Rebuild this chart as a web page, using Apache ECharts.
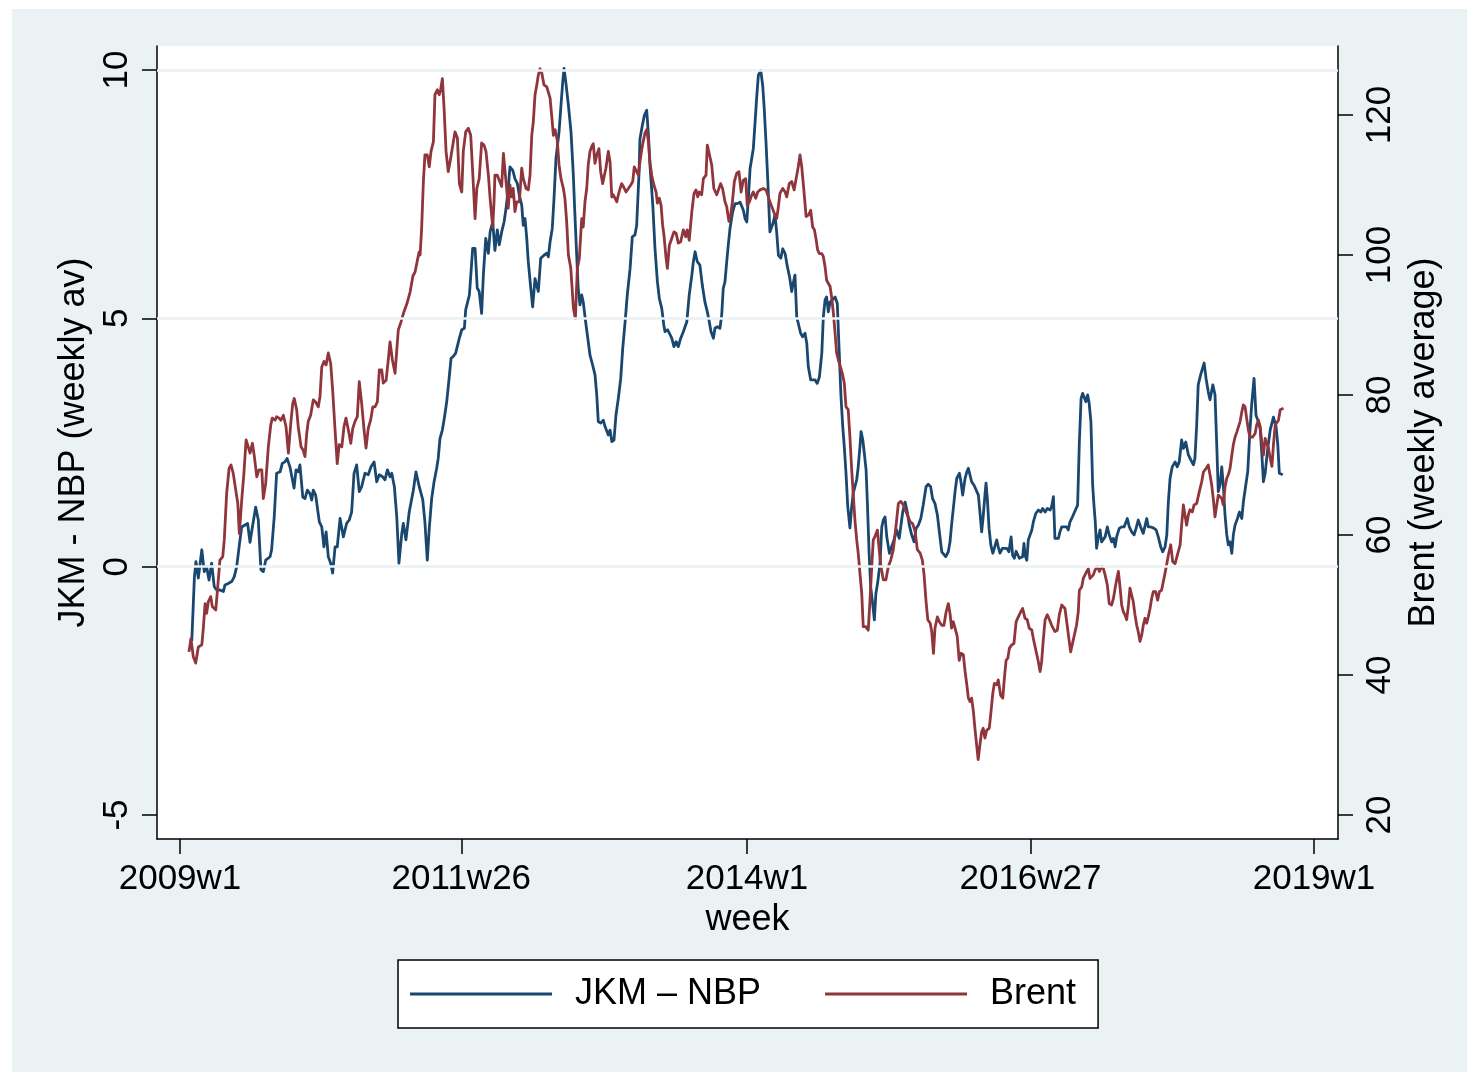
<!DOCTYPE html>
<html>
<head>
<meta charset="utf-8">
<title>JKM - NBP spread and Brent</title>
<script src="https://cdn.jsdelivr.net/npm/echarts@6/dist/echarts.min.js"></script>
<style>
  html, body { margin: 0; padding: 0; background: #ffffff; }
  #wrap { position: relative; width: 1467px; height: 1072px; }
  #chart { width: 1467px; height: 1072px; }
  /* thin white page margin on the left and top edges */
  .edge { position: absolute; background: #ffffff; pointer-events: none; }
  #edgeLeft { left: 0; top: 0; width: 12px; height: 1072px; }
  #edgeTop { left: 0; top: 0; width: 1467px; height: 9px; }
</style>
</head>
<body>
<div id="wrap">
  <div id="chart"></div>
  <div id="edgeLeft" class="edge"></div>
  <div id="edgeTop" class="edge"></div>
</div>
<script>
// Stata weekly index: week 0 = 2009w1, 52 weeks per year
const weekTicks = [0, 129, 260, 390, 520];
const weekTickLabels = ['2009w1', '2011w26', '2014w1', '2016w27', '2019w1'];
const spreadTicks = [-5, 0, 5, 10];
const brentTicks = [20, 40, 60, 80, 100, 120];

// JKM - NBP spread (weekly average)
const jkmWeek = [
  5.4, 6.6, 7.3, 8.4, 10.0, 11.1, 12.2, 13.3, 14.5, 15.7, 16.8, 18.3, 19.9, 20.6, 22.1, 23.7, 24.9, 26.0, 27.1, 28.3,
  29.8, 31.0, 32.1, 33.2, 34.7, 35.9, 37.1, 38.2, 39.3, 41.3, 42.0, 43.2, 44.3, 45.9, 46.9, 48.1, 49.1, 50.4, 51.2, 52.3,
  53.2, 54.2, 55.0, 56.3, 57.3, 58.4, 59.6, 60.4, 61.1, 62.2, 63.0, 63.9, 65.0, 66.0, 67.0, 68.0, 69.1, 70.0, 71.1, 72.1,
  73.4, 74.9, 76.4, 77.6, 78.7, 79.8, 81.0, 82.2, 83.3, 84.8, 86.3, 87.6, 89.0, 90.2, 91.4, 92.9, 94.0, 95.1, 96.3, 97.1,
  98.3, 99.4, 100.4, 101.7, 102.4, 103.6, 105.1, 107.0, 108.2, 109.7, 111.3, 112.3, 113.4, 114.3, 115.4, 116.5, 117.7, 118.4, 119.2, 120.3,
  121.2, 122.3, 123.4, 124.3, 125.3, 126.4, 127.3, 128.1, 129.2, 130.4, 131.0, 131.9, 132.7, 133.3, 134.2, 135.3, 136.3, 137.2, 138.3, 139.1,
  140.2, 141.4, 142.2, 143.4, 144.4, 145.5, 146.4, 147.5, 148.6, 149.5, 150.5, 151.3, 152.6, 153.6, 154.7, 155.6, 156.7, 157.4, 158.2, 159.0,
  159.7, 160.8, 161.7, 162.8, 163.6, 164.3, 165.4, 166.9, 168.2, 168.9, 169.7, 170.7, 171.5, 172.4, 173.0, 173.8, 174.7, 175.5, 176.1, 176.9,
  178.1, 179.3, 180.3, 181.1, 181.9, 182.6, 183.4, 184.2, 184.9, 186.0, 187.0, 188.0, 189.2, 190.3, 191.1, 191.8, 192.9, 194.1, 194.9, 195.7,
  196.4, 197.2, 198.0, 199.0, 199.9, 201.0, 202.1, 203.0, 204.1, 205.1, 206.4, 207.4, 208.6, 209.4, 210.5, 210.9, 212.0, 212.9, 214.0, 214.8,
  215.5, 216.8, 217.8, 218.9, 219.8, 220.9, 221.9, 222.4, 223.6, 224.4, 225.5, 226.5, 227.5, 228.5, 229.6, 230.8, 231.6, 232.4, 233.5, 234.7,
  235.4, 236.2, 237.2, 238.4, 239.5, 240.7, 241.8, 242.7, 243.5, 244.6, 245.3, 246.4, 247.6, 248.4, 249.1, 249.9, 250.7, 251.4, 252.2, 253.4,
  254.5, 255.6, 256.8, 257.6, 258.3, 259.1, 259.9, 260.6, 261.4, 262.2, 262.9, 263.7, 264.5, 265.2, 266.3, 267.2, 267.9, 268.7, 269.5, 270.5,
  271.3, 272.1, 272.8, 273.6, 274.4, 275.5, 276.4, 277.5, 278.5, 279.5, 280.5, 281.2, 282.0, 282.8, 283.5, 284.6, 285.5, 286.6, 287.4, 288.1,
  289.2, 290.1, 291.2, 292.2, 293.2, 294.3, 295.0, 295.8, 296.5, 297.3, 298.1, 299.1, 300.4, 301.4, 302.3, 303.1, 303.9, 304.6, 305.4, 306.2,
  307.2, 308.0, 308.7, 309.5, 310.3, 311.0, 311.8, 312.3, 313.1, 313.8, 314.6, 315.2, 316.0, 316.7, 317.6, 318.4, 319.1, 319.9, 321.0, 321.8,
  322.5, 323.3, 324.1, 325.3, 326.3, 327.4, 328.6, 329.8, 331.4, 332.5, 333.5, 334.4, 335.5, 336.6, 337.5, 338.6, 339.7, 340.8, 342.1, 343.1,
  344.2, 345.1, 346.2, 347.3, 348.2, 349.3, 350.0, 351.1, 352.3, 353.1, 353.8, 354.6, 355.4, 356.2, 357.4, 358.1, 358.9, 360.0, 360.8, 361.5,
  362.3, 363.0, 364.1, 365.0, 366.1, 366.8, 367.6, 368.3, 369.1, 369.6, 370.2, 371.0, 371.8, 372.7, 373.4, 374.5, 375.2, 376.0, 377.1, 378.0,
  379.1, 380.1, 381.1, 381.8, 382.6, 383.4, 384.1, 384.9, 385.6, 386.4, 387.0, 387.5, 388.3, 389.0, 389.8, 390.6, 391.3, 392.4, 393.6, 394.7,
  395.6, 396.7, 397.7, 399.0, 399.7, 400.5, 401.2, 402.0, 402.8, 403.5, 404.3, 405.5, 406.6, 407.3, 408.1, 408.9, 409.9, 410.9, 411.6, 412.4,
  413.2, 413.9, 414.7, 415.4, 416.2, 416.9, 417.7, 418.5, 419.1, 419.7, 420.3, 421.0, 421.9, 422.6, 423.4, 424.2, 425.2, 426.1, 427.2, 428.0,
  428.8, 429.5, 430.7, 431.8, 432.9, 433.8, 434.4, 435.3, 436.4, 437.5, 438.4, 439.4, 440.5, 441.7, 442.5, 443.3, 444.0, 445.1, 446.3, 447.6,
  448.6, 449.7, 450.6, 451.7, 452.5, 453.2, 454.0, 455.0, 456.3, 457.3, 458.2, 459.3, 460.1, 461.2, 462.4, 463.5, 464.7, 465.4, 466.2, 466.9,
  468.0, 469.6, 470.5, 471.5, 472.3, 473.6, 474.6, 475.4, 476.1, 476.9, 477.7, 478.4, 479.2, 480.0, 480.7, 481.5, 482.3, 483.0, 483.8, 484.9,
  485.8, 486.9, 487.6, 488.8, 489.6, 490.6, 491.4, 492.5, 493.4, 494.5, 495.3, 496.1, 496.8, 497.6, 498.6, 499.9, 501.4, 502.6, 503.4, 504.1,
  505.7
];
const jkmSpread = [
  -1.5, -0.21, 0.10, -0.23, 0.34, -0.10, 0.0, -0.27, 0.07, -0.40, -0.47, -0.47, -0.50, -0.37, -0.34, -0.30, -0.20, 0.0, 0.40, 0.80,
  0.84, 0.87, 0.49, 0.80, 1.20, 0.94, -0.06, -0.10, 0.13, 0.20, 0.34, 1.00, 1.88, 1.91, 2.08, 2.11, 2.18, 2.01, 1.98, 1.58,
  1.95, 1.91, 2.05, 1.40, 1.37, 1.54, 1.47, 1.34, 1.54, 1.44, 1.47, 0.90, 0.80, 0.40, 0.70, 0.20, 0.07, -0.13, 0.40, 0.40,
  0.97, 0.60, 0.87, 0.94, 1.10, 1.88, 2.05, 1.51, 1.61, 1.88, 1.85, 2.01, 2.11, 1.71, 1.85, 1.81, 1.75, 1.95, 1.81, 1.88,
  1.61, 1.00, 0.07, 0.67, 0.87, 0.54, 1.10, 1.54, 1.91, 1.61, 1.35, 0.90, 0.13, 0.77, 1.37, 1.71, 1.98, 2.18, 2.58, 2.75,
  2.99, 3.32, 3.79, 4.20, 4.23, 4.30, 4.30, 4.60, 4.77, 4.80, 5.17, 5.33, 5.47, 5.84, 6.41, 6.41, 5.61, 5.54, 5.10, 5.87,
  6.61, 6.31, 6.74, 6.94, 6.37, 6.78, 6.48, 6.74, 6.94, 7.21, 7.61, 8.05, 7.98, 7.81, 7.71, 7.48, 7.28, 6.87, 7.01, 6.61,
  6.14, 5.63, 5.23, 5.80, 5.80, 5.54, 6.21, 6.27, 6.31, 6.24, 6.54, 6.81, 7.41, 8.22, 8.22, 8.75, 9.29, 9.76, 10.03, 9.76,
  9.29, 8.75, 7.94, 7.07, 6.27, 5.60, 5.27, 5.47, 5.33, 4.93, 4.60, 4.26, 4.06, 3.86, 3.46, 2.92, 2.89, 2.95, 2.82, 2.85,
  2.65, 2.75, 2.52, 2.55, 3.05, 3.39, 3.79, 4.39, 4.93, 5.47, 6.01, 6.64, 6.68, 6.87, 7.94, 8.61, 8.88, 9.08, 9.19, 8.69,
  8.08, 7.28, 6.41, 5.74, 5.40, 5.20, 4.85, 4.73, 4.77, 4.73, 4.60, 4.43, 4.53, 4.43, 4.60, 4.73, 4.73, 4.93, 5.47, 5.87,
  6.14, 6.34, 6.14, 6.07, 5.67, 5.33, 5.13, 4.93, 4.73, 4.60, 4.80, 4.83, 4.80, 5.07, 5.60, 5.74, 6.14, 6.47, 6.81, 7.14,
  7.31, 7.31, 7.34, 7.34, 7.18, 7.01, 6.94, 7.41, 8.01, 7.98, 8.42, 8.95, 9.49, 9.89, 9.99, 9.69, 9.22, 8.55, 7.81, 6.74,
  6.74, 6.94, 7.08, 6.74, 6.27, 6.21, 6.40, 6.30, 6.04, 5.84, 5.54, 5.71, 5.87, 5.03, 4.90, 4.70, 4.63, 4.70, 4.50, 4.03,
  3.76, 3.72, 3.76, 3.69, 3.82, 4.30, 5.03, 5.37, 5.43, 5.13, 5.33, 5.37, 5.43, 5.30, 4.30, 3.42, 2.82, 2.42, 1.88, 1.21,
  0.78, 1.21, 1.48, 1.61, 1.75, 2.01, 2.42, 2.72, 2.55, 2.28, 1.95, 1.28, 0.27, -0.40, -0.74, -1.07, -0.54, -0.33, 0.07, 0.80,
  0.94, 1.00, 0.60, 0.27, 0.40, 0.54, 0.74, 0.57, 1.10, 1.30, 1.10, 0.84, 0.64, 0.50, 0.77, 0.84, 0.97, 1.24, 1.61, 1.66,
  1.61, 1.37, 1.27, 1.04, 0.70, 0.30, 0.34, 0.20, 0.30, 0.50, 0.84, 1.17, 1.51, 1.78, 1.88, 1.71, 1.44, 1.78, 1.91, 1.98,
  1.95, 1.71, 1.64, 1.64, 1.44, 1.10, 0.70, 1.01, 1.44, 1.68, 1.37, 0.77, 0.44, 0.27, 0.37, 0.54, 0.40, 0.27, 0.37, 0.34,
  0.37, 0.30, 0.60, 0.23, 0.17, 0.31, 0.30, 0.17, 0.13, 0.20, 0.47, 0.23, 0.13, 0.54, 0.57, 0.74, 0.90, 1.07, 1.14, 1.10,
  1.17, 1.10, 1.17, 1.14, 1.21, 1.41, 0.57, 0.54, 0.57, 0.70, 0.80, 0.80, 0.80, 0.74, 0.90, 0.97, 1.07, 1.17, 1.24, 2.51,
  3.39, 3.49, 3.49, 3.32, 3.46, 3.29, 2.92, 1.64, 1.24, 0.90, 0.37, 0.57, 0.74, 0.50, 0.54, 0.60, 0.80, 0.64, 0.50, 0.57,
  0.40, 0.60, 0.77, 0.80, 0.80, 0.84, 0.97, 0.80, 0.70, 0.64, 0.77, 0.94, 0.80, 0.67, 0.64, 0.97, 0.80, 0.80, 0.78, 0.74,
  0.60, 0.40, 0.30, 0.40, 0.64, 1.30, 1.78, 2.01, 2.11, 2.01, 2.11, 2.55, 2.38, 2.51, 2.25, 2.15, 2.05, 2.18, 2.85, 3.66,
  3.86, 4.10, 3.79, 3.52, 3.36, 3.66, 3.46, 2.45, 1.51, 1.64, 2.01, 1.64, 1.04, 0.64, 0.44, 0.50, 0.27, 0.64, 0.84, 0.97,
  1.10, 0.97, 1.30, 1.67, 1.91, 2.72, 3.26, 3.79, 3.05, 2.92, 2.78, 2.25, 1.71, 1.88, 2.31, 2.75, 3.01, 2.82, 2.45, 1.88,
  1.85
];

// Brent crude, USD per barrel (weekly average)
const brentWeek = [
  4.1, 5.0, 6.1, 7.2, 8.4, 10.0, 10.7, 11.5, 12.2, 13.0, 14.1, 14.8, 15.6, 16.4, 17.3, 18.3, 19.6, 20.3, 21.4, 22.5,
  23.4, 24.4, 25.2, 26.5, 27.2, 28.3, 29.3, 30.3, 31.3, 32.1, 33.2, 34.1, 35.2, 36.2, 37.5, 38.2, 39.3, 40.5, 41.6, 42.3,
  43.6, 44.3, 45.4, 46.3, 47.4, 48.6, 49.7, 50.8, 51.7, 52.4, 53.5, 54.2, 55.5, 56.5, 57.3, 58.1, 58.8, 59.9, 61.1, 62.2,
  63.4, 64.2, 65.0, 66.0, 67.0, 68.0, 69.1, 70.0, 71.1, 72.1, 73.0, 74.2, 75.2, 76.1, 77.2, 78.3, 79.2, 80.2, 81.3, 82.2,
  83.3, 84.4, 85.3, 86.3, 87.4, 88.4, 89.4, 90.5, 91.4, 92.5, 93.2, 94.5, 95.5, 96.3, 97.4, 98.6, 99.4, 100.1, 101.3, 102.7,
  104.1, 105.5, 106.8, 107.8, 108.7, 109.6, 110.1, 110.8, 111.6, 112.3, 113.4, 114.3, 115.1, 116.2, 116.9, 118.0, 118.9, 119.5, 120.3, 121.1,
  122.0, 123.0, 124.1, 125.1, 126.1, 127.2, 128.1, 129.2, 129.9, 131.0, 132.2, 133.3, 134.2, 135.3, 136.1, 137.2, 138.3, 139.4, 140.3, 141.4,
  142.2, 142.9, 143.4, 144.0, 144.4, 145.5, 146.4, 147.5, 148.3, 149.0, 149.8, 150.5, 151.3, 152.1, 152.8, 153.6, 154.4, 155.6, 156.7, 157.4,
  158.7, 159.7, 160.5, 161.3, 162.0, 162.8, 163.6, 164.3, 165.1, 165.9, 166.9, 168.2, 168.9, 169.7, 170.7, 171.2, 172.0, 173.0, 173.8, 174.7,
  175.8, 176.5, 177.3, 178.1, 179.2, 179.6, 180.4, 181.3, 182.2, 183.1, 184.2, 184.9, 185.7, 186.5, 187.2, 188.0, 188.8, 189.5, 190.3, 191.1,
  192.1, 192.9, 193.8, 194.6, 195.3, 196.4, 197.2, 198.0, 198.7, 199.5, 200.3, 201.0, 201.8, 202.5, 203.3, 204.5, 205.6, 206.7, 207.6, 208.3,
  209.4, 210.2, 210.9, 211.7, 212.4, 213.2, 214.0, 214.8, 215.5, 216.3, 217.3, 218.3, 218.9, 219.8, 220.6, 221.3, 221.9, 222.9, 223.5, 224.4,
  225.5, 226.5, 227.5, 228.5, 229.6, 230.8, 231.9, 232.6, 233.5, 234.7, 235.7, 236.6, 237.4, 238.1, 239.2, 240.0, 241.2, 241.8, 242.7, 243.8,
  244.8, 246.1, 246.8, 247.9, 248.8, 249.9, 250.7, 251.7, 252.5, 253.3, 254.2, 255.3, 256.3, 257.3, 258.3, 259.4, 260.1, 261.1, 262.2, 262.9,
  264.0, 264.9, 266.0, 267.5, 268.7, 269.5, 270.5, 271.6, 272.8, 273.6, 274.4, 275.1, 276.4, 277.5, 278.2, 279.4, 280.5, 281.6, 282.5, 283.5,
  284.3, 285.1, 286.2, 287.1, 288.2, 289.2, 290.1, 290.9, 291.6, 292.4, 293.2, 294.3, 295.0, 295.8, 296.5, 297.3, 298.1, 298.8, 299.6, 300.4,
  301.1, 301.9, 302.6, 303.7, 304.6, 305.4, 306.4, 307.2, 308.0, 308.7, 309.5, 310.3, 311.0, 311.8, 312.6, 313.3, 314.4, 315.6, 316.4, 317.2,
  317.9, 318.7, 319.8, 320.5, 321.4, 322.5, 323.7, 324.8, 325.9, 327.1, 328.3, 329.4, 330.5, 331.7, 332.5, 333.5, 334.8, 336.0, 337.1, 338.1,
  339.4, 340.4, 341.2, 342.1, 342.9, 344.0, 344.7, 345.5, 346.2, 347.3, 348.2, 349.3, 350.3, 351.3, 352.3, 353.1, 353.8, 354.6, 355.4, 356.4,
  357.3, 358.1, 359.2, 360.0, 360.8, 361.5, 362.3, 363.0, 363.8, 364.5, 365.3, 366.0, 366.8, 367.6, 368.3, 369.1, 369.9, 371.1, 371.9, 372.6,
  373.4, 374.5, 375.2, 376.3, 377.3, 378.0, 378.8, 379.6, 380.3, 381.4, 382.4, 383.4, 384.4, 385.5, 386.4, 387.5, 388.5, 389.4, 390.6, 391.3,
  392.1, 392.9, 393.6, 394.4, 395.1, 395.9, 396.7, 397.7, 398.7, 399.7, 400.5, 401.2, 402.3, 403.2, 404.3, 405.0, 405.8, 406.6, 407.6, 408.4,
  409.3, 410.1, 411.1, 411.9, 412.4, 413.5, 414.2, 415.0, 415.8, 416.5, 417.3, 418.1, 418.8, 419.6, 420.7, 421.6, 422.7, 423.4, 424.2, 425.2,
  426.1, 427.2, 428.0, 428.8, 429.5, 430.3, 431.1, 431.8, 432.6, 433.3, 434.1, 434.9, 435.6, 436.4, 437.1, 437.9, 438.7, 439.4, 440.2, 441.0,
  441.7, 442.5, 443.3, 444.0, 444.8, 445.6, 446.3, 447.4, 448.3, 449.1, 450.1, 451.2, 452.1, 453.2, 454.3, 455.2, 456.3, 457.3, 458.6, 459.3,
  460.1, 460.8, 461.6, 462.4, 463.1, 464.2, 465.0, 466.2, 467.4, 468.5, 469.3, 470.5, 471.5, 472.3, 473.1, 473.8, 474.6, 475.4, 476.1, 476.9,
  477.7, 478.4, 479.2, 480.0, 480.7, 481.5, 482.3, 483.0, 483.8, 484.6, 485.3, 486.1, 486.9, 487.6, 488.4, 489.1, 489.9, 490.6, 491.9, 493.0,
  493.7, 494.5, 495.3, 496.1, 496.8, 497.6, 498.4, 499.1, 499.9, 500.7, 501.4, 502.2, 503.0, 503.7, 504.5, 505.3, 506.0
];
const brentPrice = [
  43.3, 45.2, 42.6, 41.7, 44.0, 44.3, 46.7, 50.2, 48.8, 50.5, 51.2, 49.8, 49.8, 49.3, 52.6, 56.4, 56.9, 59.3, 66.0, 69.5,
  70.0, 68.8, 68.6, 64.5, 60.2, 65.0, 68.8, 73.6, 72.6, 71.7, 73.1, 71.2, 68.3, 69.3, 69.3, 65.2, 67.4, 72.6, 75.7, 76.7,
  76.4, 76.9, 76.7, 76.4, 77.1, 75.5, 71.7, 76.0, 78.8, 79.5, 77.9, 75.5, 72.6, 72.1, 71.2, 74.5, 76.2, 77.1, 79.3, 79.0,
  78.3, 79.8, 84.0, 84.8, 84.3, 86.0, 84.5, 80.7, 75.0, 70.2, 72.9, 72.6, 75.5, 76.7, 75.0, 73.1, 75.2, 76.2, 76.9, 81.9,
  78.8, 75.0, 72.4, 75.2, 76.4, 78.3, 78.3, 79.0, 83.6, 83.6, 81.7, 82.1, 85.0, 87.6, 85.0, 83.1, 86.4, 89.3, 90.4, 91.9,
  93.1, 94.7, 97.0, 97.6, 99.0, 100.4, 100.0, 103.8, 110.5, 114.3, 114.3, 112.6, 114.8, 116.2, 122.9, 123.6, 122.9, 123.6, 125.2, 120.9,
  114.8, 111.9, 113.8, 115.7, 117.6, 116.7, 110.2, 109.0, 114.8, 117.6, 118.1, 117.1, 111.9, 105.2, 109.5, 110.9, 116.0, 115.7, 114.8, 111.4,
  108.1, 105.7, 104.0, 107.6, 111.4, 111.4, 111.2, 109.8, 114.5, 112.1, 109.5, 106.7, 110.0, 108.3, 109.5, 106.2, 107.6, 107.6, 112.4, 110.9,
  109.5, 109.3, 111.4, 117.1, 119.0, 122.9, 124.3, 125.7, 126.6, 126.0, 124.3, 124.0, 123.8, 122.4, 119.0, 117.1, 117.9, 116.4, 112.9, 110.9,
  109.5, 108.1, 104.8, 100.0, 98.1, 96.2, 92.4, 90.9, 98.1, 99.5, 105.2, 104.0, 107.6, 109.5, 112.9, 114.8, 115.5, 115.9, 113.1, 114.3,
  115.2, 111.9, 110.2, 111.4, 112.4, 114.8, 113.3, 108.3, 108.6, 108.1, 107.6, 108.6, 109.5, 110.2, 109.8, 109.0, 109.5, 110.0, 110.5, 112.6,
  111.9, 111.4, 113.3, 115.0, 116.2, 117.4, 117.9, 116.2, 113.3, 111.4, 110.0, 109.0, 107.4, 108.1, 107.1, 104.3, 102.9, 99.5, 98.1, 101.4,
  102.4, 103.3, 103.1, 101.7, 101.9, 103.6, 102.6, 103.6, 102.1, 106.2, 108.8, 109.3, 108.3, 109.0, 108.6, 110.9, 111.4, 115.7, 115.5, 112.9,
  109.5, 108.6, 108.8, 110.2, 109.5, 107.6, 106.9, 104.8, 105.7, 107.6, 110.5, 111.7, 111.9, 109.0, 110.7, 110.9, 107.1, 107.6, 108.6, 109.0,
  108.1, 109.0, 109.3, 109.5, 109.3, 108.6, 107.6, 106.7, 105.7, 105.2, 106.9, 108.8, 109.5, 109.0, 108.3, 110.2, 110.5, 109.3, 109.3, 112.6,
  114.3, 112.6, 108.8, 105.5, 105.7, 106.4, 104.0, 103.6, 102.4, 100.7, 100.2, 100.2, 99.8, 98.3, 96.4, 96.2, 95.5, 94.0, 91.7, 88.8,
  86.0, 85.0, 85.2, 83.1, 81.7, 78.3, 77.9, 74.0, 69.3, 65.9, 62.1, 59.3, 57.4, 54.5, 51.7, 46.9, 46.9, 46.4, 50.7, 55.5,
  59.3, 59.8, 60.7, 58.3, 55.5, 53.6, 53.6, 55.5, 56.4, 57.9, 61.2, 64.5, 64.8, 64.3, 63.6, 62.9, 61.9, 61.6, 60.5, 57.9,
  57.4, 56.4, 54.3, 50.5, 47.9, 47.4, 46.2, 43.1, 46.7, 48.3, 47.6, 47.1, 47.1, 49.0, 50.2, 48.8, 46.7, 47.6, 46.7, 45.5,
  42.1, 43.1, 42.9, 40.5, 38.6, 36.7, 36.2, 36.7, 34.8, 32.4, 30.0, 27.9, 30.0, 31.9, 32.4, 31.0, 32.1, 32.4, 34.8, 37.1,
  38.8, 38.6, 39.3, 37.1, 36.7, 39.5, 42.1, 42.4, 43.8, 44.3, 44.5, 47.6, 48.3, 49.0, 49.5, 48.1, 47.9, 46.7, 46.4, 45.2,
  45.2, 42.9, 41.9, 40.5, 41.9, 45.2, 47.9, 48.6, 47.9, 47.1, 46.9, 46.2, 46.4, 48.6, 50.0, 50.2, 49.5, 47.6, 45.2, 43.3,
  43.3, 45.7, 47.1, 49.0, 52.1, 52.6, 53.8, 54.3, 54.8, 55.2, 53.8, 54.0, 54.3, 55.0, 55.5, 54.8, 55.5, 55.2, 54.3, 52.9,
  50.2, 50.0, 50.9, 52.4, 53.6, 54.8, 52.4, 50.0, 49.0, 48.6, 47.9, 50.0, 52.4, 52.4, 50.5, 48.6, 47.1, 46.2, 44.8, 45.7,
  47.1, 48.1, 47.4, 48.3, 49.5, 51.0, 51.9, 51.9, 50.7, 51.9, 52.1, 53.8, 55.2, 57.1, 58.6, 56.2, 55.9, 57.1, 58.6, 61.4,
  64.3, 62.9, 61.4, 62.9, 63.6, 63.3, 64.3, 64.5, 66.2, 67.6, 69.0, 69.5, 70.0, 68.6, 67.1, 65.2, 62.6, 64.3, 65.7, 65.9,
  65.2, 64.3, 66.9, 68.1, 68.6, 69.5, 71.4, 72.9, 74.0, 74.7, 74.7, 76.2, 77.6, 78.6, 78.3, 76.7, 75.0, 74.0, 74.0, 74.5,
  75.7, 76.4, 75.5, 73.1, 71.4, 73.8, 73.6, 72.4, 71.0, 69.8, 72.9, 75.7, 75.9, 76.4, 77.9, 78.1, 78.1
];

const FONT = "'Liberation Sans', Arial, Helvetica, sans-serif";
const NAVY = '#1a476f';
const MAROON = '#90353b';
const GRID = '#eaf2f3';

function weekLabel(v) {
  const i = weekTicks.indexOf(Math.round(v));
  return i >= 0 ? weekTickLabels[i] : '';
}

const chart = echarts.init(document.getElementById('chart'), null, { renderer: 'canvas' });

chart.setOption({
  animation: false,
  backgroundColor: '#eaf2f3',
  textStyle: { fontFamily: FONT, color: '#000' },
  grid: {
    left: 157, right: 129, top: 46, height: 793,
    show: true, backgroundColor: '#ffffff', borderWidth: 0,
    containLabel: false
  },
  legend: {
    data: ['JKM \u2013 NBP', 'Brent'],
    left: 398, top: 960,
    orient: 'horizontal',
    backgroundColor: '#ffffff',
    borderColor: '#000000', borderWidth: 1.5, borderRadius: 0,
    padding: [14, 22, 14, 12],
    icon: 'rect', itemWidth: 142, itemHeight: 3, itemGap: 64,
    textStyle: { fontFamily: FONT, fontSize: 36, color: '#000', padding: [0, 0, 0, 18], lineHeight: 40 },
    selectedMode: false
  },
  xAxis: {
    type: 'value',
    min: -10.55, max: 531.0,
    name: 'week', nameLocation: 'middle', nameGap: 60,
    nameTextStyle: { fontFamily: FONT, fontSize: 36, color: '#000' },
    axisLine: { show: true, onZero: false, lineStyle: { color: '#000', width: 1.5 } },
    axisTick: { show: true, length: 15, lineStyle: { color: '#000', width: 1.5 }, customValues: weekTicks },
    axisLabel: { show: true, margin: 23, fontFamily: FONT, fontSize: 35, color: '#000',
                 customValues: weekTicks, formatter: weekLabel },
    splitLine: { show: false }
  },
  yAxis: [
    {
      type: 'value', position: 'left',
      min: -5.483, max: 10.483,
      name: 'JKM - NBP (weekly av)', nameLocation: 'middle', nameGap: 64, nameRotate: 90,
      nameTextStyle: { fontFamily: FONT, fontSize: 36, color: '#000' },
      axisLine: { show: true, onZero: false, lineStyle: { color: '#000', width: 1.5 } },
      axisTick: { show: true, length: 15, lineStyle: { color: '#000', width: 1.5 }, customValues: spreadTicks },
      axisLabel: { show: true, rotate: 90, margin: 22, fontFamily: FONT, fontSize: 35, color: '#000',
                   customValues: spreadTicks },
      splitLine: { show: false }
    },
    {
      type: 'value', position: 'right',
      min: 16.571, max: 129.857,
      name: 'Brent (weekly average)', nameLocation: 'middle', nameGap: 64, nameRotate: 90,
      nameTextStyle: { fontFamily: FONT, fontSize: 36, color: '#000' },
      axisLine: { show: true, onZero: false, lineStyle: { color: '#000', width: 1.5 } },
      axisTick: { show: true, length: 15, lineStyle: { color: '#000', width: 1.5 }, customValues: brentTicks },
      axisLabel: { show: true, rotate: 90, margin: 25, fontFamily: FONT, fontSize: 35, color: '#000',
                   customValues: brentTicks },
      splitLine: { show: false }
    }
  ],
  series: [
    {
      // horizontal rules at the labelled spread values, kept under the data lines
      name: 'rules', type: 'line', yAxisIndex: 0, z: 1,
      data: [[0, 0]], showSymbol: false, lineStyle: { opacity: 0 }, silent: true,
      markLine: {
        silent: true, symbol: ['none', 'none'], label: { show: false },
        lineStyle: { color: GRID, width: 2.5, type: 'solid' },
        data: spreadTicks.filter(v => v !== -5).map(v => ({ yAxis: v }))
      }
    },
    {
      name: 'JKM \u2013 NBP', type: 'line', yAxisIndex: 0, z: 3,
      data: jkmWeek.map((w, i) => [w, jkmSpread[i]]),
      showSymbol: false, clip: false,
      lineStyle: { color: NAVY, width: 2.8, join: 'round' }, itemStyle: { color: NAVY }
    },
    {
      name: 'Brent', type: 'line', yAxisIndex: 1, z: 3,
      data: brentWeek.map((w, i) => [w, brentPrice[i]]),
      showSymbol: false, clip: false,
      lineStyle: { color: MAROON, width: 2.8, join: 'round' }, itemStyle: { color: MAROON }
    }
  ]
});
</script>
</body>
</html>
